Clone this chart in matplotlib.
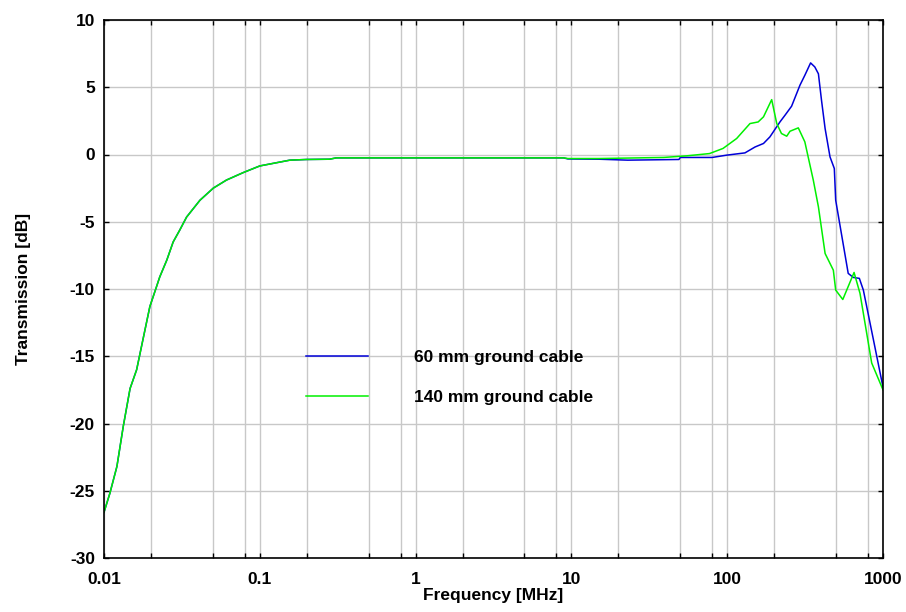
import matplotlib
matplotlib.use('Agg')
import matplotlib.pyplot as plt
from matplotlib.ticker import FixedLocator, NullFormatter

plt.rcParams['font.family'] = ['Liberation Sans', 'DejaVu Sans']
plt.rcParams['font.weight'] = 'bold'
plt.rcParams['axes.unicode_minus'] = False

# gemeinsamer Anstieg bei tiefen Frequenzen (beide Kurven identisch)
freq_low = [0.010, 0.0109, 0.0121, 0.0133, 0.0147, 0.0162, 0.0179, 0.0197, 0.0217,
            0.0228, 0.0253, 0.0278, 0.0307, 0.0339, 0.0413, 0.0503, 0.0611, 0.0781,
            0.100, 0.156, 0.20, 0.28, 0.31, 1.0, 3.0, 8.9]
db_low = [-26.6, -25.2, -23.2, -20.2, -17.4, -16.0, -13.6, -11.3, -9.85,
          -9.1, -7.85, -6.5, -5.6, -4.65, -3.4, -2.5, -1.9, -1.35,
          -0.85, -0.42, -0.37, -0.35, -0.25, -0.25, -0.25, -0.25]

# 60 mm ground cable
freq_60 = freq_low + [9.5, 15, 23, 49, 50, 80, 99, 130, 151, 171, 188, 218, 235, 259,
                      293, 315, 343, 365, 385, 403, 425, 457, 487, 497, 598, 645,
                      705, 748, 869, 1000]
db_60 = db_low + [-0.33, -0.35, -0.42, -0.37, -0.22, -0.22, -0.05, 0.12, 0.56, 0.82,
                  1.31, 2.42, 2.92, 3.59, 5.15, 5.89, 6.81, 6.51, 6.0, 4.03, 1.93,
                  -0.18, -1.04, -3.4, -8.84, -9.14, -9.21, -10.08, -13.8, -17.3]

# 140 mm ground cable
freq_140 = freq_low + [9.5, 15, 39, 55, 77, 94, 115, 140, 158, 171, 193, 208, 223,
                       241, 253, 286, 315, 357, 385, 425, 480, 497, 552, 652, 712,
                       846, 1000]
db_140 = db_low + [-0.3, -0.3, -0.22, -0.1, 0.07, 0.45, 1.19, 2.3, 2.42, 2.8, 4.08,
                   2.3, 1.56, 1.36, 1.73, 1.98, 0.94, -1.91, -3.89, -7.36, -8.6,
                   -10.08, -10.78, -8.77, -10.33, -15.5, -17.5]

x_ticks = [0.01, 0.1, 1, 10, 100, 1000]
x_labels = ['0.01', '0.1', '1', '10', '100', '1000']
x_minor = [m * d for d in [0.01, 0.1, 1, 10, 100] for m in (2, 5, 8)]
y_ticks = list(range(-30, 11, 5))

fs = 12.5

fig = plt.figure(figsize=(9.06, 6.12), dpi=100)
ax = fig.add_axes([104 / 906, 1 - 558 / 612, (883 - 104) / 906, (558 - 20) / 612])

ax.plot(freq_60, db_60, color='#0000d8', lw=1.1, label='60 mm ground cable')
ax.plot(freq_140, db_140, color='#00f000', lw=1.1, label='140 mm ground cable')

ax.set_xscale('log')
ax.set_xlim(0.01, 1000)
ax.set_ylim(-30, 10)
ax.set_xticks(x_ticks)
ax.set_xticklabels(x_labels)
ax.xaxis.set_minor_locator(FixedLocator(x_minor))
ax.xaxis.set_minor_formatter(NullFormatter())
ax.set_yticks(y_ticks)

ax.grid(True, which='both', color='#c8c8c8', lw=1.0)
ax.set_axisbelow(True)
ax.tick_params(which='both', direction='in', top=True, right=True, length=3.5,
               width=1.0, labelsize=fs)
ax.tick_params(axis='x', pad=10)
ax.tick_params(axis='y', pad=6.5)
for s in ax.spines.values():
    s.set_linewidth(1.2)

ax.set_xlabel('Frequency [MHz]', fontsize=fs, fontweight='bold', labelpad=1)
ax.set_ylabel('Transmission [dB]', fontsize=fs, fontweight='bold', labelpad=28)

leg = ax.legend(loc='upper left', bbox_to_anchor=(305.7 / 906, 1 - 350 / 612),
                bbox_transform=fig.transFigure, frameon=False, fontsize=fs,
                handlelength=3.56, handletextpad=2.7, labelspacing=1.4,
                borderpad=0, borderaxespad=0)

plt.savefig('out.png', dpi=100)
